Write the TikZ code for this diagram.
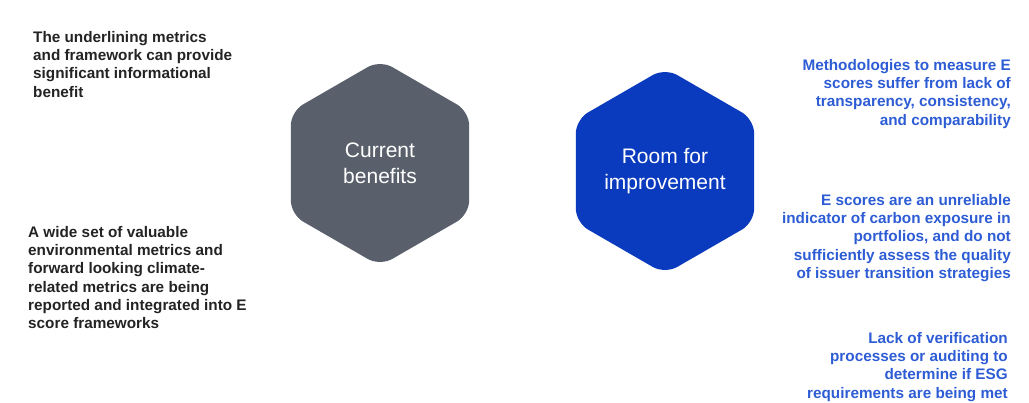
\documentclass[tikz,border=0pt]{standalone}
\usepackage{fontspec}
\setmainfont{Liberation Sans}
\usetikzlibrary{shapes.geometric}

\definecolor{hexgray}{RGB}{90,96,107}
\definecolor{hexblue}{RGB}{10,58,190}
\definecolor{noteblue}{RGB}{45,92,212}
\definecolor{notedark}{RGB}{35,35,35}

\tikzstyle{hexa} = [ regular polygon,regular polygon sides=6,shape border rotate=30,
                     minimum size=206pt,inner sep=0pt,rounded corners=14pt,
                     text=white,align=center,font=\fontsize{21}{26}\selectfont]
\tikzstyle{note} = [ inner sep=0pt,font=\bfseries\fontsize{15.3}{18.3}\selectfont]
\tikzstyle{pro}  = [ note,text=notedark,align=left,anchor=north west]
\tikzstyle{con}  = [ note,text=noteblue,align=right,anchor=north east]

\begin{document}
\begin{tikzpicture}[x=1pt,y=-1pt]
  \useasboundingbox (0,0) rectangle (1029,402);

  \node[hexa,fill=hexgray] at (380,163) (cur)  {Current\\benefits};
  \node[hexa,fill=hexblue] at (665,171) (room) {Room for\\improvement};

  \node[pro] at (33,31)  (frame)  {The underlining metrics\\and framework can provide\\
                                   significant informational\\benefit};
  \node[pro] at (28,226) (wide)   {A wide set of valuable\\environmental metrics and\\
                                   forward looking climate-\\related metrics are being\\
                                   reported and integrated into E\\score frameworks};

  \node[con] at (1011,59)  (method) {Methodologies to measure E\\scores suffer from lack of\\
                                     transparency, consistency,\\and comparability};
  \node[con] at (1011,194) (unrel)  {E scores are an unreliable\\indicator of carbon exposure in\\
                                     portfolios, and do not\\sufficiently assess the quality\\
                                     of issuer transition strategies};
  \node[con] at (1008,332) (verif)  {Lack of verification\\processes or auditing to\\
                                     determine if ESG\\requirements are being met};
\end{tikzpicture}
\end{document}
